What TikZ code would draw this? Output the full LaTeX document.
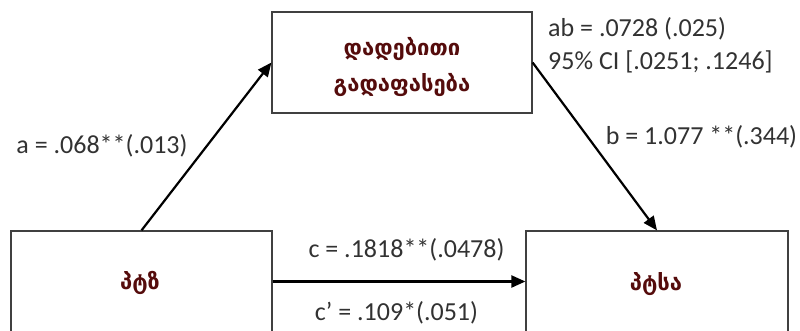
\documentclass[tikz,border=0pt]{standalone}
\usepackage{fontspec}
\setmainfont{Carlito}
\newfontfamily\geo{DejaVu Sans}
\usetikzlibrary{arrows.meta}
\definecolor{boxgray}{RGB}{64,64,64}
\definecolor{geored}{RGB}{85,12,12}
\definecolor{lblgray}{RGB}{50,50,50}
\begin{document}
\begin{tikzpicture}[x=1pt,y=-1pt,
  box/.style={draw=boxgray,line width=1.2pt,minimum width=260pt,minimum height=101pt,inner sep=0pt},
  geotext/.style={font=\geo\bfseries\fontsize{22}{36}\selectfont,text=geored,align=center,inner sep=0pt},
  lbl/.style={font=\fontsize{26}{33}\selectfont,text=lblgray,inner sep=0pt},
  arr/.style={line width=2.2pt,-{Triangle[length=14pt,width=12pt]}}]
\clip (0,0) rectangle (800,331);
\node[box] (M) at (402,62.5) {};
\node[box,minimum width=261pt] (L) at (141.5,281.5) {};
\node[box,minimum width=262pt] (R) at (657,281.5) {};
\node[geotext] (Mt) at (402,67) {დადებითი\\გადაფასება};
\node[geotext] (Lt) at (140,283) {პტზ};
\node[geotext] (Rt) at (656,284) {პტსა};
\draw[arr] (L.north) -- (M.west);
\draw[arr] (M.east) -- (R.north);
\draw[arr] (L.east) -- (R.west);
\node[lbl] (la) at (102,146) {a = .068**(.013)};
\node[lbl] (lb) at (701.5,137) {b = 1.077 **(.344)};
\node[lbl,anchor=west,align=left] (lab) at (548,45.5) {ab = .0728 (.025)\\95\% CI [.0251; .1246]};
\node[lbl] (lc) at (406.5,250) {c = .1818**(.0478)};
\node[lbl] (lcp) at (396.5,313) {c’ = .109*(.051)};
\end{tikzpicture}
\end{document}
